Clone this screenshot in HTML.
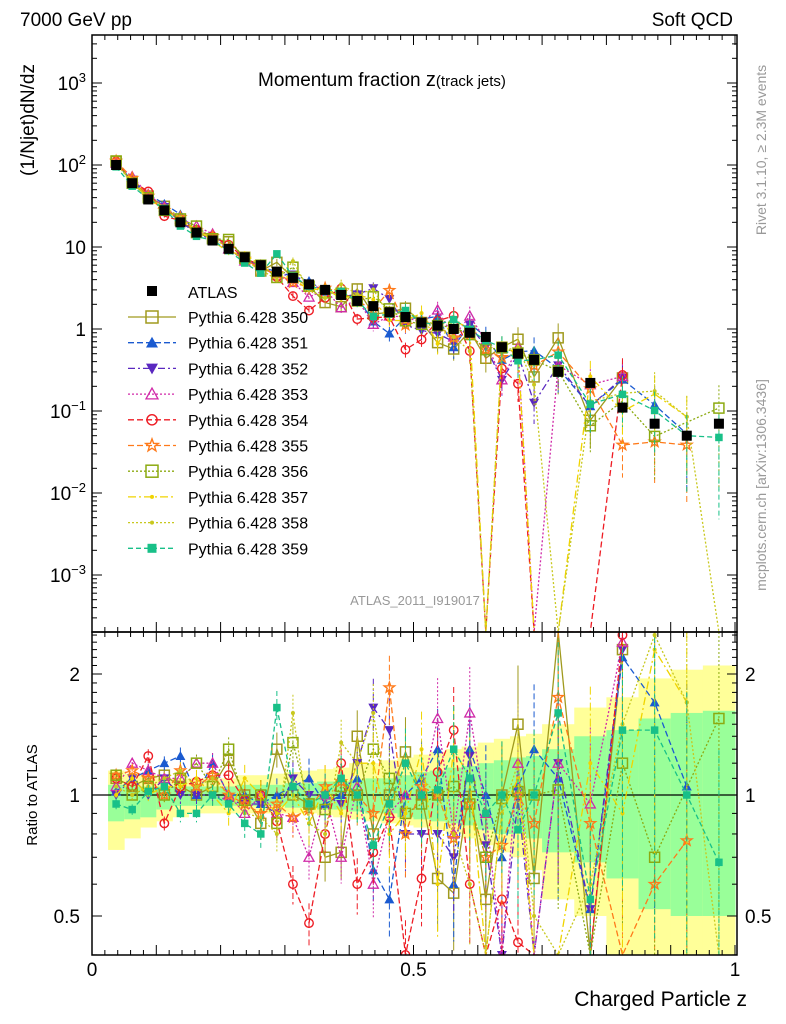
<!DOCTYPE html>
<html><head><meta charset="utf-8"><style>
html,body{margin:0;padding:0;background:#fff;overflow:hidden;width:786px;height:1024px;}
svg{display:block;}
svg text{font-family:"Liberation Sans","DejaVu Sans",sans-serif;}
</style></head><body>
<svg id="c" width="786" height="1024" viewBox="0 0 786 1024" xmlns="http://www.w3.org/2000/svg">
<defs>
<clipPath id="cm"><rect x="92" y="35" width="645" height="597"/></clipPath>
<clipPath id="cr"><rect x="92" y="632" width="645" height="323"/></clipPath>
</defs>
<g id="bands" clip-path="url(#cr)"></g>
<g id="ratio" clip-path="url(#cr)"></g>
<g id="main" clip-path="url(#cm)"></g>
<g id="axes"></g>
<g id="legend"></g>
<text x="20" y="26" font-size="19">7000 GeV pp</text>
<text x="733" y="26" font-size="19" text-anchor="end">Soft QCD</text>
<text x="258" y="86" font-size="19">Momentum fraction <tspan font-size="20">z</tspan><tspan font-size="15">(track jets)</tspan></text>
<text transform="translate(34,120) rotate(-90)" font-size="19" text-anchor="middle">(1/Njet)dN/dz</text>
<text transform="translate(37,795) rotate(-90)" font-size="15" text-anchor="middle">Ratio to ATLAS</text>
<text x="747" y="1006" font-size="21" text-anchor="end">Charged Particle z</text>
<text transform="translate(766,150) rotate(-90)" font-size="14" fill="#999" text-anchor="middle">Rivet 3.1.10, ≥ 2.3M events</text>
<text transform="translate(766,485) rotate(-90)" font-size="14" fill="#999" text-anchor="middle">mcplots.cern.ch [arXiv:1306.3436]</text>
<text x="415" y="605" font-size="13" fill="#999" text-anchor="middle">ATLAS_2011_I919017</text>
</svg>
<script>
const zc=[0.0375,0.0625,0.0875,0.1125,0.1375,0.1625,0.1875,0.2125,0.2375,0.2625,0.2875,0.3125,0.3375,0.3625,0.3875,0.4125,0.4375,0.4625,0.4875,0.5125,0.5375,0.5625,0.5875,0.6125,0.6375,0.6625,0.6875,0.725,0.775,0.825,0.875,0.925,0.975];
const atlas=[100,60,38,28,20,15,12,9.5,7.5,6,5,4.2,3.5,3.0,2.6,2.2,1.9,1.6,1.4,1.2,1.1,1.0,0.9,0.8,0.6,0.5,0.42,0.3,0.22,0.11,0.07,0.05,0.07];
const relErr=[0.03,0.03,0.04,0.04,0.05,0.05,0.06,0.07,0.08,0.09,0.1,0.11,0.12,0.13,0.14,0.16,0.18,0.2,0.22,0.24,0.26,0.28,0.3,0.33,0.36,0.4,0.45,0.5,0.55,0.6,0.7,0.8,0.9];
const yHi=[1.15,1.13,1.12,1.1,1.1,1.1,1.1,1.1,1.12,1.12,1.13,1.14,1.15,1.16,1.17,1.2,1.2,1.22,1.24,1.26,1.28,1.3,1.32,1.35,1.38,1.4,1.42,1.5,1.65,1.75,1.95,2.05,2.1];
const yLo=[0.73,0.78,0.83,0.86,0.88,0.9,0.9,0.9,0.9,0.9,0.9,0.9,0.9,0.89,0.88,0.87,0.86,0.85,0.84,0.83,0.82,0.8,0.78,0.75,0.72,0.7,0.65,0.55,0.5,0.4,0.35,0.35,0.35];
const gHi=[1.06,1.05,1.05,1.05,1.05,1.05,1.05,1.05,1.06,1.06,1.06,1.07,1.07,1.08,1.08,1.09,1.1,1.1,1.12,1.14,1.15,1.17,1.18,1.2,1.22,1.24,1.25,1.3,1.4,1.45,1.55,1.6,1.62];
const gLo=[0.86,0.87,0.88,0.92,0.94,0.94,0.94,0.94,0.94,0.94,0.94,0.93,0.93,0.92,0.92,0.91,0.9,0.9,0.88,0.87,0.86,0.85,0.84,0.82,0.8,0.8,0.78,0.72,0.68,0.62,0.52,0.5,0.5];
const names=["350","351","352","353","354","355","356","357","358","359"];
const colors=["#a09a1e","#1a5ad0","#5a28c0","#d02aa8","#ee1c24","#ff7a1a","#8caa10","#f0d400","#c8c81e","#18c088"];
const dashes=["","6,3","7,3,2,3","2,2","6,3","6,3","2,2","8,3,2,3","2,2","5,3"];
const markers=["osq","tri","dtri","otri","ocirc","star","osq","dot","dot","sq"];
const r350=[1.1,1.05,1.1,1.12,1.05,1.0,1.05,1.22,1.0,0.85,1.3,1.0,0.95,0.7,0.72,1.4,0.8,1.0,1.28,1.0,0.62,0.57,1.05,0.55,1.0,1.5,0.62,2.6,0.35,2.3,null,null,null];
const r351=[1.02,1.1,1.15,1.2,1.25,1.0,1.2,1.0,1.0,0.95,1.0,1.05,1.1,0.95,1.0,1.1,0.65,0.55,1.0,1.1,1.3,0.6,1.3,1.0,0.7,1.05,1.3,1.1,0.52,2.2,1.7,1.05,null];
const r352=[1.0,1.1,1.0,1.1,1.0,1.0,1.0,0.97,0.95,0.95,0.9,1.1,1.0,1.0,0.95,1.2,1.65,1.45,0.8,0.8,0.8,0.7,1.25,0.75,0.4,0.98,0.3,1.2,0.52,2.3,null,null,null];
const r353=[1.05,1.2,1.15,1.1,1.1,1.2,1.2,1.0,0.9,1.0,0.9,0.88,0.7,1.0,0.7,1.05,0.6,0.9,1.0,1.0,1.55,0.8,1.6,0.9,0.4,1.2,0.0,1.2,0.95,2.4,null,null,null];
const r354=[1.1,1.05,1.25,0.85,1.05,1.08,1.12,1.12,0.97,1.0,0.86,0.6,0.48,0.8,1.2,0.6,0.72,0.88,0.4,0.62,1.14,1.45,0.6,0.0,0.55,0.43,0.0,0.0,0.0,2.5,null,null,null];
const r355=[1.12,1.15,1.1,1.0,1.15,1.05,1.12,1.0,0.95,0.9,0.95,0.88,0.92,1.05,1.08,1.0,0.9,1.85,0.8,1.05,1.0,0.78,0.95,0.7,0.75,1.0,0.85,1.75,0.85,0.35,0.6,0.77,null];
const r356=[1.12,1.0,1.05,1.0,1.1,1.2,1.05,1.3,0.97,1.0,0.85,1.35,0.95,0.92,1.05,1.0,1.3,1.1,0.9,0.95,1.0,1.05,0.95,0.7,0.98,1.02,1.0,1.03,0.3,1.2,0.7,null,1.55];
const r357=[1.0,1.1,1.0,1.05,1.05,1.1,1.0,0.9,1.1,1.0,0.9,1.0,0.85,1.05,0.9,1.2,1.2,0.8,0.9,1.3,0.6,1.3,1.1,0.0,0.9,1.1,0.0,0.0,1.2,0.9,2.3,1.7,null];
const r358=[1.05,1.0,1.05,1.1,1.15,1.05,1.1,1.0,0.9,0.88,0.8,1.6,0.85,0.8,1.35,1.2,1.6,0.9,1.2,1.1,1.0,0.8,0.6,0.0,0.9,1.2,0.5,0.0,0.6,1.5,2.5,1.7,0.0];
const r359=[0.95,0.92,1.02,1.05,0.9,0.9,1.0,0.95,0.85,0.8,1.65,1.05,0.95,1.0,1.1,1.0,0.75,0.95,1.2,1.0,1.03,1.3,1.1,0.9,1.0,0.82,1.0,1.6,0.55,1.45,1.45,1.0,0.68];
const ratios=[r350,r351,r352,r353,r354,r355,r356,r357,r358,r359];
const xTicks=[0,0.5,1];
const ratioTicks=[0.5,1,2];

const NS="http://www.w3.org/2000/svg";
const X=z=>92+z*643;
const clampM=y=>Math.max(35,Math.min(632,y));
const clampR=y=>Math.max(632,Math.min(955,y));
const YM=v=>329-82*Math.log10(v);
const YR=r=>795-121*Math.log2(r);
function mk(tag,attrs,parent){const e=document.createElementNS(NS,tag);for(const k in attrs)e.setAttribute(k,attrs[k]);parent.appendChild(e);return e;}
const gM=document.getElementById('main'),gR=document.getElementById('ratio'),gB=document.getElementById('bands'),gA=document.getElementById('axes'),gL=document.getElementById('legend');
function binEdges(i){const w=zc[i]<0.7?0.025:0.05;return [zc[i]-w/2,zc[i]+w/2];}
function marker(g,type,x,y,col,s){
 let e;
 if(type==="osq"){e=mk('rect',{x:x-s,y:y-s,width:2*s,height:2*s,fill:'none',stroke:col,'stroke-width':1.5},g);}
 else if(type==="sq"){e=mk('rect',{x:x-s*0.75,y:y-s*0.75,width:1.5*s,height:1.5*s,fill:col},g);}
 else if(type==="tri"){e=mk('polygon',{points:`${x},${y-s} ${x-s},${y+s*0.8} ${x+s},${y+s*0.8}`,fill:col},g);}
 else if(type==="dtri"){e=mk('polygon',{points:`${x},${y+s} ${x-s},${y-s*0.8} ${x+s},${y-s*0.8}`,fill:col},g);}
 else if(type==="otri"){e=mk('polygon',{points:`${x},${y-s} ${x-s},${y+s*0.8} ${x+s},${y+s*0.8}`,fill:'none',stroke:col,'stroke-width':1.3},g);}
 else if(type==="ocirc"){e=mk('circle',{cx:x,cy:y,r:s*0.85,fill:'none',stroke:col,'stroke-width':1.4},g);}
 else if(type==="star"){let p=[];for(let k=0;k<10;k++){const a=-Math.PI/2+k*Math.PI/5,rr=k%2?s*0.45:s*1.1;p.push((x+rr*Math.cos(a)).toFixed(1)+','+(y+rr*Math.sin(a)).toFixed(1));}e=mk('polygon',{points:p.join(' '),fill:'none',stroke:col,'stroke-width':1.4},g);}
 else {e=mk('circle',{cx:x,cy:y,r:2,fill:col},g);}
 return e;
}
for(let i=0;i<zc.length;i++){
 const [a,b]=binEdges(i);
 const yh=clampR(YR(yHi[i])),yl=clampR(YR(yLo[i])),gh=clampR(YR(gHi[i])),gl=clampR(YR(gLo[i]));
 let e=mk('rect',{x:X(a),y:yh,width:X(b)-X(a)+0.5,height:yl-yh,fill:'#ffff99'},gB);
 
 
 e=mk('rect',{x:X(a),y:gh,width:X(b)-X(a)+0.5,height:gl-gh,fill:'#99ff99'},gB);
 
 
}
mk('line',{x1:92,x2:737,y1:YR(1),y2:YR(1),stroke:'#000','stroke-width':1.3},gB);
ratios.forEach((r,s)=>{
 const col=colors[s];
 const gm=mk('g',{},gM);
 
 
 const gr=mk('g',{},gR);
 
 
 let pm=[],pr=[];
 r.forEach((v,i)=>{
  if(v===null)return;
  const x=X(zc[i]);
  if(v<=0){pm.push([x,632]);pr.push([x,955]);return;}
  const val=atlas[i]*v,er=relErr[i];
  const ym=clampM(YM(val)),yr=clampR(YR(v));
  pm.push([x,ym]);pr.push([x,yr]);
  mk('line',{x1:x,x2:x,y1:clampM(YM(val*(1+er))),y2:clampM(YM(Math.max(val*(1-er),1e-5))),stroke:col,'stroke-width':1,'stroke-dasharray':dashes[s]},gm);
  mk('line',{x1:x,x2:x,y1:clampR(YR(v*(1+er))),y2:clampR(YR(Math.max(v*(1-er),0.1))),stroke:col,'stroke-width':1,'stroke-dasharray':dashes[s]},gr);
 });
 const d=p=>p.map((q,k)=>(k?'L':'M')+q[0].toFixed(1)+','+q[1].toFixed(1)).join('');
 mk('path',{d:d(pm),fill:'none',stroke:col,'stroke-width':1.3,'stroke-dasharray':dashes[s]},gm);
 mk('path',{d:d(pr),fill:'none',stroke:col,'stroke-width':1.3,'stroke-dasharray':dashes[s]},gr);
 r.forEach((v,i)=>{
  if(v===null||v<=0)return;
  const x=X(zc[i]);
  const ym=YM(atlas[i]*v),yr=YR(v);
  if(ym>=35&&ym<=632){
   const e=marker(gm,markers[s],x,ym,col,5);
   
   
  }
  if(yr>=632&&yr<=955){
   const e=marker(gr,markers[s],x,yr,col,5);
   
   
  }
 });
});
atlas.forEach((v,i)=>{
 const x=X(zc[i]);
 const e=mk('rect',{x:x-5,y:YM(v)-5,width:10,height:10,fill:'#000'},gM);
 
 
});
mk('rect',{x:92,y:35,width:645,height:597,fill:'none',stroke:'#000','stroke-width':1.5},gA);
mk('rect',{x:92,y:632,width:645,height:323,fill:'none',stroke:'#000','stroke-width':1.5},gA);
for(let k=0;k<=50;k++){const z=k*0.02,x=X(z),big=k%5===0;
 [[35,1],[632,-1],[632,1],[955,-1]].forEach(([y,dir])=>mk('line',{x1:x,x2:x,y1:y,y2:y+dir*(big?10:5),stroke:'#000'},gA));}
xTicks.forEach(t=>{const e=mk('text',{x:X(t),y:976,'font-size':19,'text-anchor':'middle'},gA);e.textContent=String(t);
 
 });
for(let d=-4;d<=3;d++){for(let m=1;m<=9;m++){const v=m*Math.pow(10,d),y=YM(v);if(y<35||y>632)continue;const L=m===1?10:5;
 mk('line',{x1:92,x2:92+L,y1:y,y2:y,stroke:'#000'},gA);mk('line',{x1:737,x2:737-L,y1:y,y2:y,stroke:'#000'},gA);}}
[[3,'10','3'],[2,'10','2'],[1,'10',''],[0,'1',''],[-1,'10','−1'],[-2,'10','−2'],[-3,'10','−3']].forEach(([d,b,ex])=>{
 const t=mk('text',{x:86,y:YM(Math.pow(10,d))+7,'font-size':19,'text-anchor':'end'},gA);
 
 
 if(ex){t.innerHTML=b+'<tspan font-size="13" dy="-8">'+ex+'</tspan>';}else t.textContent=b;});
for(let k=4;k<=25;k++){const v=k/10,y=YR(v);if(y<632||y>955)continue;const L=(v===0.5||v===1||v===2)?10:5;
 mk('line',{x1:92,x2:92+L,y1:y,y2:y,stroke:'#000'},gA);mk('line',{x1:737,x2:737-L,y1:y,y2:y,stroke:'#000'},gA);}
ratioTicks.forEach(t=>{
 let e=mk('text',{x:80,y:YR(t)+7,'font-size':19,'text-anchor':'end'},gA);e.textContent=String(t);
 
 
 e=mk('text',{x:745,y:YR(t)+7,'font-size':19},gA);e.textContent=String(t);
 
 });
mk('rect',{x:147,y:286,width:10,height:10,fill:'#000'},gL);
let lt0=mk('text',{x:188,y:298,'font-size':16},gL);lt0.textContent='ATLAS';


names.forEach((n,s)=>{const y=317+s*25.7;
 const g=mk('g',{},gL);
 
 
 mk('line',{x1:128,x2:176,y1:y,y2:y,stroke:colors[s],'stroke-width':1.3,'stroke-dasharray':dashes[s]},g);
 marker(g,markers[s],152,y,colors[s],6);
 const t=mk('text',{x:188,y:y+6,'font-size':16},g);t.textContent='Pythia 6.428 '+n;});
</script>
</body></html>
